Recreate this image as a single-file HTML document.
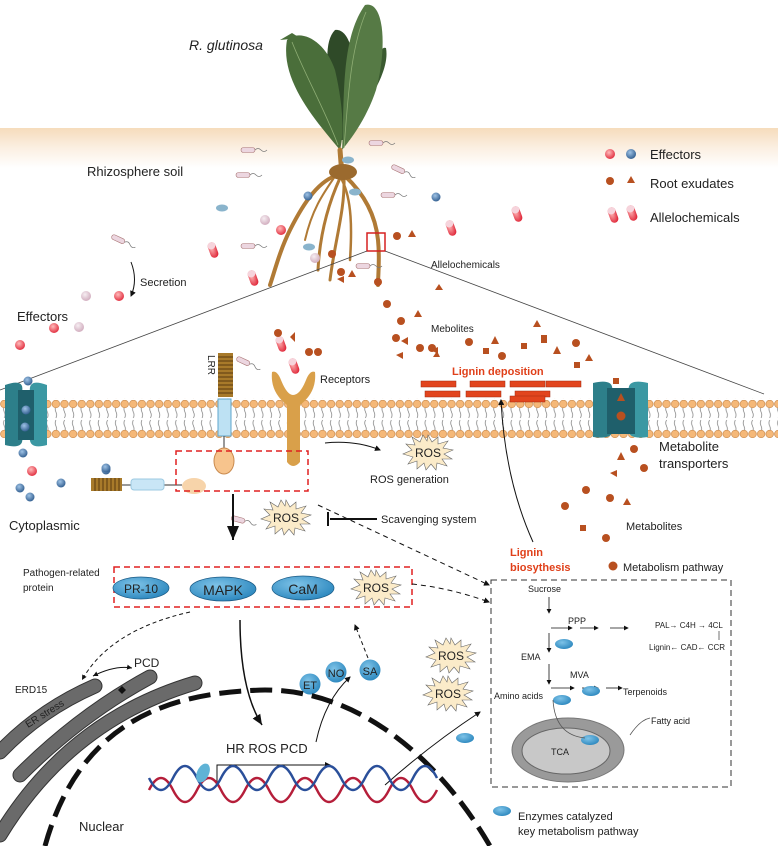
<!DOCTYPE html>
<html><head><meta charset="utf-8"><style>
html,body{margin:0;padding:0;background:#fff}
svg{display:block}
text{font-family:"Liberation Sans",Arial,sans-serif;fill:#222}
</style></head><body>
<svg width="778" height="846" viewBox="0 0 778 846" xmlns="http://www.w3.org/2000/svg">
<defs>
<linearGradient id="soil" x1="0" y1="0" x2="0" y2="1">
<stop offset="0" stop-color="#f6dcbc"/><stop offset="0.5" stop-color="#fbefe2"/><stop offset="1" stop-color="#ffffff"/>
</linearGradient>
<pattern id="mem" x="0" y="0" width="8.6" height="40" patternUnits="userSpaceOnUse">
<path d="M4.3 6 q-1.5 3 0 6 q1.5 3 0 6 M4.3 20 q-1.5 3 0 6 q1.5 3 0 6" stroke="#777" stroke-width="0.7" fill="none"/>
<circle cx="4.3" cy="4" r="3.8" fill="#f5b878" stroke="#c98a4e" stroke-width="0.7"/>
<circle cx="4.3" cy="34" r="3.8" fill="#f5b878" stroke="#c98a4e" stroke-width="0.7"/>
</pattern>
<radialGradient id="blue" cx="0.4" cy="0.35" r="0.7"><stop offset="0" stop-color="#9fc3e6"/><stop offset="1" stop-color="#2d5a8c"/></radialGradient>
<radialGradient id="red" cx="0.4" cy="0.35" r="0.7"><stop offset="0" stop-color="#fbb"/><stop offset="1" stop-color="#e0283a"/></radialGradient>
<radialGradient id="pink" cx="0.4" cy="0.35" r="0.7"><stop offset="0" stop-color="#f6eef2"/><stop offset="1" stop-color="#cfa9bb"/></radialGradient>
<radialGradient id="enz" cx="0.4" cy="0.35" r="0.7"><stop offset="0" stop-color="#7ec3e8"/><stop offset="1" stop-color="#2a86bd"/></radialGradient>
<marker id="ar" markerWidth="8" markerHeight="8" refX="7" refY="4" orient="auto"><path d="M0 1 L7 4 L0 7z" fill="#111"/></marker>
<marker id="arb" markerWidth="6" markerHeight="6" refX="5" refY="3" orient="auto"><path d="M0 0 L6 3 L0 6z" fill="#111"/></marker>
<marker id="ars" markerWidth="6" markerHeight="6" refX="5" refY="3" orient="auto-start-reverse"><path d="M0 0.5 L5 3 L0 5.5z" fill="#111"/></marker>
<g id="burst"><polygon points="0,-17 4,-10 10,-15 10,-8 20,-11 15,-4 25,-2 16,2 24,7 14,7 19,14 9,11 8,18 3,12 -2,18 -4,11 -11,17 -11,9 -20,12 -15,5 -25,2 -16,-2 -22,-8 -13,-7 -16,-15 -8,-10 -5,-17 -1,-11" fill="#fbebc9" stroke="#666" stroke-width="0.6"/></g>
<g id="pill"><rect x="-4" y="-8" width="8" height="16" rx="4" fill="url(#red)"/><rect x="-4" y="-8" width="8" height="7" rx="4" fill="#f6d4dc"/></g>
<g id="bact"><rect x="-9" y="-2.5" width="14" height="5" rx="2.5" fill="#ecd6e0" stroke="#a77" stroke-width="0.6"/><path d="M5 0 q3 -3 6 0 t6 0" stroke="#777" fill="none" stroke-width="0.7"/></g>
</defs>

<rect x="0" y="128" width="778" height="40" fill="url(#soil)"/>

<g>
<path d="M340 140 C330 90 320 45 335 30 C350 28 362 60 350 140Z" fill="#2f4a28"/>
<path d="M340 150 C315 120 280 80 287 40 C300 28 325 40 335 70 C342 100 345 130 340 150Z" fill="#4a6e3a"/>
<path d="M350 130 C370 100 390 70 386 48 C378 44 368 80 352 122Z" fill="#3a5a30"/>
<path d="M342 150 C345 100 340 40 365 5 C385 0 387 50 376 90 C366 120 350 140 342 150Z" fill="#567a45"/>
<path d="M280 40 L292 33 L300 38Z" fill="#4a6e3a"/>
<path d="M344 148 C348 100 350 50 366 12" stroke="#8fae75" stroke-width="0.8" fill="none"/>
<path d="M338 145 C325 110 305 75 292 42" stroke="#8fae75" stroke-width="0.8" fill="none"/>
</g>
<g stroke="#b07a35" fill="none" stroke-linecap="round">
<path d="M340 150 L342 175" stroke-width="5"/>
<path d="M338 175 C320 180 305 200 290 230 C280 250 275 270 270 285" stroke-width="4"/>
<path d="M340 178 C330 200 320 230 318 270" stroke-width="3"/>
<path d="M344 178 C345 210 335 240 330 280" stroke-width="3"/>
<path d="M345 176 C360 190 375 210 378 240 C380 260 378 275 378 285" stroke-width="4"/>
<path d="M342 180 C352 200 352 230 350 260" stroke-width="2.5"/>
<path d="M336 175 C322 195 312 210 305 240" stroke-width="2"/>
</g>
<ellipse cx="343" cy="172" rx="14" ry="8" fill="#9b6a2e"/>
<rect x="367" y="233" width="18" height="18" fill="none" stroke="#d62020" stroke-width="1.5"/>

<path d="M367 251 L0 390 M385 251 L764 394" stroke="#444" stroke-width="0.8"/>

<use href="#bact" x="250" y="150"/><use href="#bact" x="378" y="143"/><use href="#bact" x="400" y="170" transform="rotate(25 400 170)"/>
<use href="#bact" x="245" y="175"/><use href="#bact" x="390" y="195"/><use href="#bact" x="250" y="246"/><use href="#bact" x="365" y="266"/>
<use href="#bact" x="120" y="240" transform="rotate(25 120 240)"/><use href="#bact" x="240" y="520" transform="rotate(15 240 520)"/>
<g fill="url(#pink)"><circle cx="265" cy="220" r="5"/><circle cx="315" cy="258" r="5"/><circle cx="86" cy="296" r="5"/><circle cx="79" cy="327" r="5"/></g>
<g fill="url(#red)"><circle cx="281" cy="230" r="5"/><circle cx="119" cy="296" r="5"/><circle cx="54" cy="328" r="5"/><circle cx="20" cy="345" r="5"/><circle cx="32" cy="471" r="5"/></g>
<g fill="url(#blue)"><circle cx="308" cy="196" r="4.5"/><circle cx="436" cy="197" r="4.5"/><circle cx="28" cy="381" r="4.5"/><circle cx="23" cy="453" r="4.5"/><circle cx="20" cy="488" r="4.5"/><circle cx="30" cy="497" r="4.5"/><circle cx="61" cy="483" r="4.5"/><circle cx="106" cy="470" r="4.5"/></g>
<g fill="#8ab4cc"><ellipse cx="222" cy="208" rx="6" ry="3.5"/><ellipse cx="309" cy="247" rx="6" ry="3.5"/><ellipse cx="348" cy="160" rx="6" ry="3.5"/><ellipse cx="355" cy="192" rx="6" ry="3.5"/></g>
<use href="#pill" x="213" y="250" transform="rotate(-20 213 250)"/><use href="#pill" x="253" y="278" transform="rotate(-20 253 278)"/>
<use href="#pill" x="451" y="228" transform="rotate(-20 451 228)"/><use href="#pill" x="517" y="214" transform="rotate(-20 517 214)"/>
<use href="#pill" x="281" y="344" transform="rotate(-20 281 344)"/><use href="#pill" x="294" y="366" transform="rotate(-20 294 366)"/>
<g fill="#b85020">
<circle cx="397" cy="236" r="4"/><circle cx="332" cy="254" r="4"/><circle cx="341" cy="272" r="4"/><circle cx="378" cy="282" r="4"/>
<circle cx="387" cy="304" r="4"/><circle cx="401" cy="321" r="4"/><circle cx="396" cy="338" r="4"/><circle cx="420" cy="348" r="4"/><circle cx="432" cy="348" r="4"/>
<circle cx="469" cy="342" r="4"/><circle cx="502" cy="356" r="4"/><circle cx="576" cy="343" r="4"/><circle cx="278" cy="333" r="4"/><circle cx="309" cy="352" r="4"/><circle cx="318" cy="352" r="4"/>
<circle cx="634" cy="449" r="4"/><circle cx="644" cy="468" r="4"/><circle cx="586" cy="490" r="4"/><circle cx="610" cy="498" r="4"/><circle cx="565" cy="506" r="4"/><circle cx="606" cy="538" r="4"/>
<polygon points="412,230 416,237 408,237"/><polygon points="418,310 422,317 414,317"/><polygon points="495,336 499,344 491,344"/><polygon points="537,320 541,327 533,327"/>
<polygon points="557,346 561,354 553,354"/><polygon points="589,354 593,361 585,361"/><polygon points="408,337 408,345 401,341"/><polygon points="352,270 356,277 348,277"/>
<polygon points="344,276 344,283 337,279"/><polygon points="403,352 403,359 396,355"/><polygon points="438,347 438,354 431,350"/><polygon points="621,452 625,460 617,460"/>
<polygon points="617,470 617,477 610,473"/><polygon points="627,498 631,505 623,505"/><polygon points="439,284 443,290 435,290"/>
<rect x="483" y="348" width="6" height="6"/><rect x="521" y="343" width="6" height="6"/><rect x="541" y="335" width="6" height="8"/><rect x="574" y="362" width="6" height="6"/><rect x="613" y="378" width="6" height="6"/><rect x="580" y="525" width="6" height="6"/>
<polygon points="290,337 295,332 295,342"/><polygon points="433,357 437,351 440,357"/>
</g>

<rect x="0" y="398" width="778" height="40" fill="url(#mem)"/>

<path d="M5 385 Q25 378 22 392 Q14 414 22 436 Q25 450 5 445 Z" fill="#2d7f8a"/>
<path d="M47 385 Q28 378 30 392 Q38 414 30 436 Q28 450 47 445 Z" fill="#3b98a3"/>
<rect x="18" y="390" width="16" height="50" fill="#1f5f6b"/>
<circle cx="26" cy="410" r="4.5" fill="url(#blue)"/><circle cx="25" cy="427" r="4.5" fill="url(#blue)"/>
<path d="M593 383 Q615 378 612 392 Q605 410 612 428 Q615 440 593 437 Z" fill="#2d7f8a"/>
<path d="M648 383 Q626 378 629 392 Q636 410 629 428 Q626 440 648 437 Z" fill="#3b98a3"/>
<rect x="607" y="388" width="28" height="46" fill="#1f5f6b"/>
<polygon points="621,393 625,401 617,401" fill="#b85020"/><circle cx="621" cy="416" r="4.5" fill="#b85020"/>

<rect x="218" y="353" width="15" height="44" fill="#a87a2a"/>
<g stroke="#5a3a10" stroke-width="1"><path d="M218 357h15M218 361h15M218 365h15M218 369h15M218 373h15M218 377h15M218 381h15M218 385h15M218 389h15M218 393h15"/></g>
<use href="#bact" x="245" y="362" transform="rotate(25 245 362)"/>
<rect x="218" y="399" width="13" height="37" fill="#bde1f3" stroke="#5fa6cc"/>
<line x1="224" y1="436" x2="224" y2="448" stroke="#333"/>
<ellipse cx="224" cy="461" rx="10" ry="13" fill="#f7c48d" stroke="#c98a4e"/>
<rect x="91" y="478" width="31" height="13" fill="#a87a2a"/>
<g stroke="#5a3a10"><path d="M95 478v13M99 478v13M103 478v13M107 478v13M111 478v13M115 478v13M119 478v13"/></g>
<line x1="122" y1="485" x2="182" y2="485" stroke="#333"/>
<rect x="131" y="479" width="33" height="11" rx="3" fill="#c9e6f6" stroke="#9cc9e2"/>
<ellipse cx="194" cy="486" rx="12" ry="8" fill="#f7d4aa"/>
<circle cx="106" cy="468" r="4.5" fill="url(#blue)"/>
<path d="M272 372 Q270 392 287 405 L287 462 Q293 470 300 462 L300 405 Q317 392 315 372 Q310 370 306 380 Q300 395 293 395 Q287 395 281 380 Q277 370 272 372Z" fill="#d9a04a"/>

<rect x="176" y="451" width="132" height="40" fill="none" stroke="#e02020" stroke-width="1.5" stroke-dasharray="6,4"/>
<rect x="114" y="567" width="298" height="40" fill="none" stroke="#e02020" stroke-width="1.5" stroke-dasharray="6,4"/>

<g fill="#e2451e" stroke="#a02a10" stroke-width="0.5">
<rect x="421" y="381" width="35" height="6"/><rect x="470" y="381" width="35" height="6"/><rect x="510" y="381" width="35" height="6"/><rect x="546" y="381" width="35" height="6"/>
<rect x="425" y="391" width="35" height="6"/><rect x="466" y="391" width="35" height="6"/><rect x="515" y="391" width="35" height="6"/><rect x="510" y="396" width="35" height="6"/>
</g>

<use href="#burst" x="428" y="452"/><text x="428" y="457" font-size="12" text-anchor="middle">ROS</text>
<use href="#burst" x="286" y="517"/><text x="286" y="522" font-size="12" text-anchor="middle">ROS</text>
<use href="#burst" x="376" y="587"/><text x="376" y="592" font-size="12" text-anchor="middle">ROS</text>
<use href="#burst" x="451" y="655"/><text x="451" y="660" font-size="12" text-anchor="middle">ROS</text>
<use href="#burst" x="448" y="693"/><text x="448" y="698" font-size="12" text-anchor="middle">ROS</text>

<ellipse cx="141" cy="588" rx="28" ry="11" fill="url(#enz)" stroke="#1a5a85" stroke-width="0.7"/><text x="141" y="593" font-size="12" text-anchor="middle">PR-10</text>
<ellipse cx="223" cy="589" rx="33" ry="12" fill="url(#enz)" stroke="#1a5a85" stroke-width="0.7"/><text x="223" y="595" font-size="14" text-anchor="middle">MAPK</text>
<ellipse cx="303" cy="588" rx="31" ry="12" fill="url(#enz)" stroke="#1a5a85" stroke-width="0.7"/><text x="303" y="594" font-size="14" text-anchor="middle">CaM</text>
<circle cx="310" cy="684" r="10.5" fill="url(#enz)"/><text x="310" y="689" font-size="11" text-anchor="middle">ET</text>
<circle cx="336" cy="672" r="10.5" fill="url(#enz)"/><text x="336" y="677" font-size="11" text-anchor="middle">NO</text>
<circle cx="370" cy="670" r="10.5" fill="url(#enz)"/><text x="370" y="675" font-size="11" text-anchor="middle">SA</text>

<path d="M325 443 Q355 440 380 450" stroke="#111" fill="none" marker-end="url(#arb)"/>
<path d="M233 494 L233 540" stroke="#111" stroke-width="2" marker-end="url(#ar)"/>
<path d="M377 519 L330 519 M328 512 L328 526" stroke="#111" stroke-width="2"/>
<path d="M318 505 L489 585" stroke="#111" stroke-dasharray="5,4" fill="none" marker-end="url(#arb)"/>
<path d="M412 584 Q450 588 489 602" stroke="#111" stroke-dasharray="5,4" fill="none" marker-end="url(#arb)"/>
<path d="M533 542 Q505 480 501 400" stroke="#111" fill="none" marker-end="url(#arb)"/>
<path d="M240 620 Q240 690 262 725" stroke="#111" stroke-width="1.5" fill="none" marker-end="url(#ar)"/>
<path d="M368 658 L355 625" stroke="#111" stroke-dasharray="4,3" fill="none" marker-end="url(#arb)"/>
<path d="M190 612 Q110 630 82 680" stroke="#111" stroke-dasharray="4,3" fill="none" marker-end="url(#ars)"/>
<path d="M93 676 Q115 665 132 668" stroke="#111" fill="none" marker-end="url(#ars)" marker-start="url(#ars)"/>
<path d="M316 742 Q325 700 350 677" stroke="#111" fill="none" marker-end="url(#arb)"/>
<path d="M217 785 L217 765 L330 765" stroke="#111" fill="none" marker-end="url(#arb)"/>
<path d="M385 785 Q430 745 480 712" stroke="#111" fill="none" marker-end="url(#arb)"/>

<!-- ER -->
<g fill="none" stroke-linecap="round">
<g stroke="#333" stroke-width="15">
<path d="M0 752 Q40 710 95 686"/>
<path d="M20 775 Q80 715 150 677"/>
<path d="M0 835 Q70 720 195 683"/>
</g>
<g stroke="#6a6a6a" stroke-width="13">
<path d="M0 752 Q40 710 95 686"/>
<path d="M20 775 Q80 715 150 677"/>
<path d="M0 835 Q70 720 195 683"/>
</g>
</g>
<path d="M118 690 l4 -4 4 4 -4 4z" fill="#111"/>
<path d="M45 846 C80 720 170 692 265 690 C360 690 440 760 490 846" stroke="#111" stroke-width="5" fill="none" stroke-dasharray="22,9"/>
<path d="M149 790 q12 -24 24 0 t24 0 t24 0 t24 0 t24 0 t24 0 t24 0 t24 0 t24 0 t24 0 t24 0 t24 0" stroke="#b51e3a" stroke-width="2.5" fill="none"/>
<path d="M149 778 q12 24 24 0 t24 0 t24 0 t24 0 t24 0 t24 0 t24 0 t24 0 t24 0 t24 0 t24 0 t24 0" stroke="#2a4f9a" stroke-width="2.5" fill="none"/>
<ellipse cx="203" cy="773" rx="6" ry="10" fill="#5fb3d6" transform="rotate(25 203 773)"/>

<rect x="491" y="580" width="240" height="207" fill="none" stroke="#333" stroke-dasharray="6,4"/>
<g font-size="9">
<text x="528" y="592">Sucrose</text>
<text x="568" y="624">PPP</text>
<text x="655" y="628" font-size="8">PAL→ C4H → 4CL</text>
<text x="649" y="650" font-size="8">Lignin← CAD← CCR</text>
<text x="521" y="660">EMA</text>
<text x="570" y="678">MVA</text>
<text x="494" y="699">Amino acids</text>
<text x="623" y="695">Terpenoids</text>
<text x="651" y="724">Fatty acid</text>
</g>
<g stroke="#111" stroke-width="0.8" fill="none" marker-end="url(#arb)">
<path d="M549 597 L549 613"/><path d="M551 628 L572 628"/><path d="M580 628 L598 628"/><path d="M610 628 L628 628"/>
<path d="M549 633 L549 652"/><path d="M549 664 L549 684"/><path d="M551 688 L574 688"/><path d="M582 688 L598 688"/><path d="M606 688 L622 688"/>
</g>
<path d="M719 631 L719 640" stroke="#111" stroke-width="0.6"/>
<ellipse cx="564" cy="644" rx="9" ry="5" fill="url(#enz)"/><ellipse cx="591" cy="691" rx="9" ry="5" fill="url(#enz)"/><ellipse cx="562" cy="700" rx="9" ry="5" fill="url(#enz)"/>
<ellipse cx="465" cy="738" rx="9" ry="5" fill="url(#enz)"/>
<ellipse cx="568" cy="750" rx="56" ry="32" fill="#9a9a9a" stroke="#777"/>
<ellipse cx="566" cy="751" rx="44" ry="23" fill="#c8c8c8" stroke="#666"/>
<text x="560" y="755" font-size="9" text-anchor="middle">TCA</text>
<ellipse cx="590" cy="740" rx="9" ry="5" fill="url(#enz)"/>
<path d="M553 700 Q555 735 585 738" stroke="#555" fill="none" stroke-width="0.8"/>
<path d="M630 735 Q640 720 650 718" stroke="#555" fill="none" stroke-width="0.8"/>

<circle cx="610" cy="154" r="5" fill="url(#red)"/><circle cx="631" cy="154" r="5" fill="url(#blue)"/>
<circle cx="610" cy="181" r="4" fill="#b85020"/><polygon points="631,176 635,183 627,183" fill="#b85020"/>
<use href="#pill" x="613" y="215" transform="rotate(-20 613 215)"/><use href="#pill" x="632" y="213" transform="rotate(-20 632 213)"/>
<circle cx="613" cy="566" r="4.5" fill="#b85020"/>
<ellipse cx="502" cy="811" rx="9" ry="5" fill="url(#enz)"/>

<text x="189" y="50" font-size="14" font-style="italic">R. glutinosa</text>
<text x="87" y="176" font-size="13">Rhizosphere soil</text>
<text x="650" y="159" font-size="13">Effectors</text>
<text x="650" y="188" font-size="13">Root exudates</text>
<text x="650" y="222" font-size="13">Allelochemicals</text>
<text x="140" y="286" font-size="11">Secretion</text>
<path d="M131 262 Q138 280 131 296" stroke="#111" fill="none" marker-end="url(#arb)"/>
<text x="17" y="321" font-size="13">Effectors</text>
<text x="431" y="268" font-size="10">Allelochemicals</text>
<text x="431" y="332" font-size="10">Mebolites</text>
<text x="208" y="355" font-size="10" transform="rotate(90 208 355)">LRR</text>
<text x="320" y="383" font-size="11">Receptors</text>
<text x="452" y="375" font-size="11" font-weight="bold" style="fill:#e0401a">Lignin deposition</text>
<text x="659" y="451" font-size="13">Metabolite</text>
<text x="659" y="468" font-size="13">transporters</text>
<text x="370" y="483" font-size="11">ROS generation</text>
<text x="9" y="530" font-size="13">Cytoplasmic</text>
<text x="381" y="523" font-size="11">Scavenging system</text>
<text x="626" y="530" font-size="11">Metabolites</text>
<text x="510" y="556" font-size="11" font-weight="bold" style="fill:#e0401a">Lignin</text>
<text x="510" y="571" font-size="11" font-weight="bold" style="fill:#e0401a">biosythesis</text>
<text x="623" y="571" font-size="11">Metabolism pathway</text>
<text x="23" y="576" font-size="10">Pathogen-related</text>
<text x="23" y="591" font-size="10">protein</text>
<text x="15" y="693" font-size="10">ERD15</text>
<text x="134" y="667" font-size="12">PCD</text>
<text x="28" y="728" font-size="10" transform="rotate(-32 28 728)">ER stress</text>
<text x="226" y="753" font-size="13">HR ROS PCD</text>
<text x="79" y="831" font-size="13">Nuclear</text>
<text x="518" y="820" font-size="11">Enzymes catalyzed</text>
<text x="518" y="835" font-size="11">key metabolism pathway</text>
</svg>
</body></html>
